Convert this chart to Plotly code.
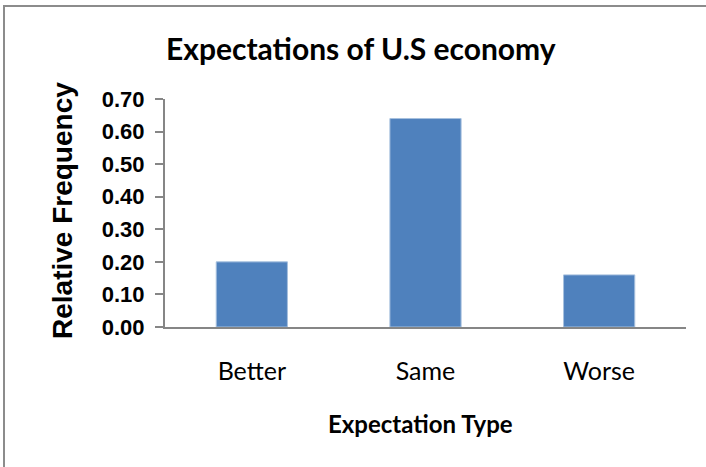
import plotly.graph_objects as go

categories = ["Better", "Same", "Worse"]
rel_freq = [0.20, 0.64, 0.16]
y_ticks = [0.0, 0.1, 0.2, 0.3, 0.4, 0.5, 0.6, 0.7]
y_tick_text = [f"{v:.2f}" for v in y_ticks]

W, H = 706, 467
L, R, T, B = 165, 20, 99, 140
pw, ph = W - L - R, H - T - B

FONT = "Lato"
SANS = "Liberation Sans"
AXIS_COLOR = "#868686"

fig = go.Figure(
    go.Bar(
        x=categories,
        y=rel_freq,
        width=0.41,
        marker=dict(color="#4F81BD", line=dict(color="#A7C0DE", width=1)),
    )
)

fig.update_layout(
    width=W,
    height=H,
    margin=dict(l=L, r=R, t=T, b=B),
    paper_bgcolor="white",
    plot_bgcolor="white",
    showlegend=False,
    font=dict(family=FONT, color="black"),
)

fig.update_xaxes(
    showline=True,
    linecolor=AXIS_COLOR,
    linewidth=2,
    ticks="",
    showgrid=False,
    tickfont=dict(size=25, family=FONT),
    ticklabelstandoff=21,
)
fig.update_yaxes(
    range=[0, 0.7],
    tickvals=y_ticks,
    ticktext=y_tick_text,
    showline=True,
    linecolor=AXIS_COLOR,
    linewidth=2,
    ticks="outside",
    ticklen=8,
    tickwidth=2,
    tickcolor=AXIS_COLOR,
    showgrid=False,
    zeroline=False,
    tickfont=dict(size=22, family=SANS, weight="bold"),
    ticklabelstandoff=6,
)


def px_x(x):
    return (x - L) / pw


def px_y(y):
    return (H - B - y) / ph


# chart frame
fig.add_shape(
    type="rect",
    xref="paper",
    yref="paper",
    x0=px_x(4),
    x1=px_x(712),
    y0=px_y(473),
    y1=px_y(6),
    line=dict(color="#8C8C8C", width=2),
    fillcolor="rgba(0,0,0,0)",
    layer="below",
)

annotations = [
    dict(text="<b>Expectations of U.S economy</b>", x=px_x(361), y=px_y(48),
         font=dict(size=30, family=FONT)),
    dict(text="<b>Relative Frequency</b>", x=px_x(62), y=px_y(211), textangle=-90,
         font=dict(size=28, family=SANS)),
    dict(text="<b>Expectation Type</b>", x=px_x(420), y=px_y(423),
         font=dict(size=24, family=FONT)),
]
for a in annotations:
    fig.add_annotation(xref="paper", yref="paper", showarrow=False,
                       xanchor="center", yanchor="middle", **a)

fig.write_html("out.html")
